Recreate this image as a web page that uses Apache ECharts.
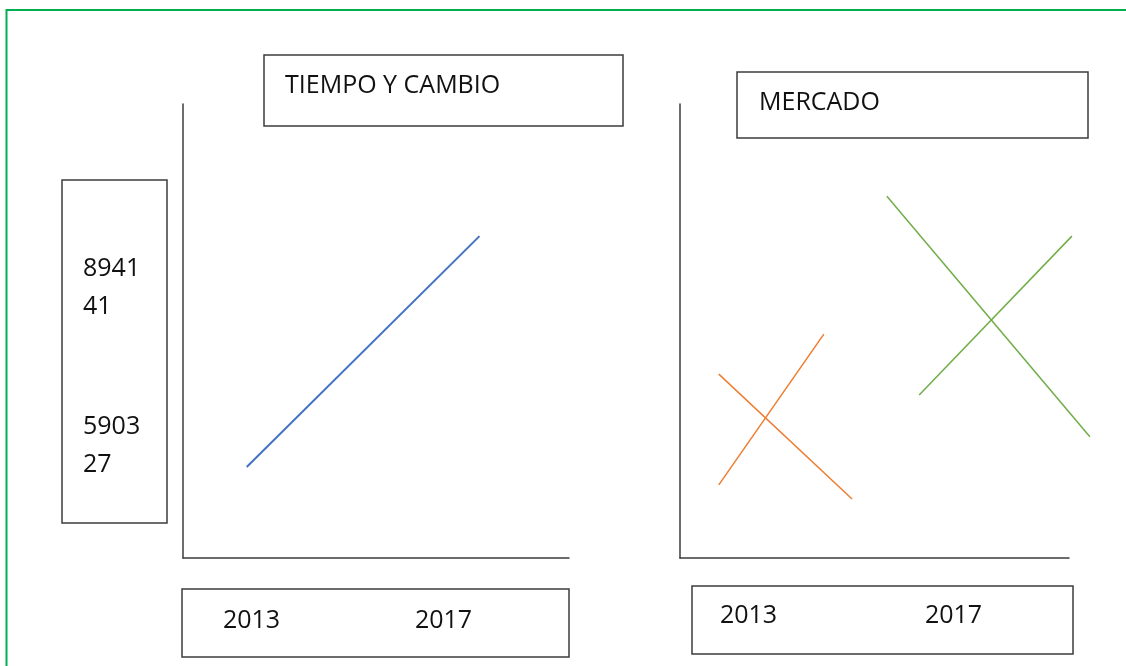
<!DOCTYPE html>
<html>
<head>
<meta charset="utf-8">
<script src="https://cdn.jsdelivr.net/npm/echarts@6/dist/echarts.min.js"></script>
<style>
  html, body { margin: 0; padding: 0; background: #fff; }
  #chart { width: 1126px; height: 666px; }
</style>
</head>
<body>
<div id="chart"></div>
<script>
// data
const yearTicks = [2013, 2017];
const valueTicks = [590327, 894141];

// TIEMPO Y CAMBIO: one rising line [year, value]
const tiempo = [[2012.9, 550000], [2017.75, 994000]];

// MERCADO: two crossed pairs, values as index 0-100
const mercadoNaranjaA = [[2012.42, 40.5], [2015.02, 13.0]];
const mercadoNaranjaB = [[2012.42, 16.1], [2014.47, 49.3]];
const mercadoVerdeA = [[2015.70, 79.7], [2019.66, 26.7]];
const mercadoVerdeB = [[2016.33, 35.9], [2019.31, 70.9]];

const font = 'Open Sans';
const ink = '#3c3c3c';

const chart = echarts.init(document.getElementById('chart'), null, { renderer: 'canvas' });

function box(x, y, w, h) {
  return {
    type: 'rect', silent: true,
    shape: { x: x, y: y, width: w, height: h },
    style: { fill: 'none', stroke: ink, lineWidth: 1.5 }
  };
}

function valueLabel(v) {
  const s = String(v);
  return s.slice(0, 4) + '\n' + s.slice(4);
}

// hidden axes for the wider overlay grid where the market lines live
const hidden = { show: false, splitLine: { show: false } };

const option = {
  backgroundColor: '#fff',
  animation: false,
  title: [
    { text: 'TIEMPO Y CAMBIO', left: 280, top: 68,
      textStyle: { fontFamily: font, fontSize: 25, fontWeight: 'normal', color: '#111' } },
    { text: 'MERCADO', left: 754, top: 85,
      textStyle: { fontFamily: font, fontSize: 25, fontWeight: 'normal', color: '#111' } }
  ],
  graphic: [
    {
      type: 'rect', silent: true,
      shape: { x: 6.5, y: 10, width: 1200, height: 700 },
      style: { fill: 'none', stroke: '#00b050', lineWidth: 2 }
    },
    box(264, 55, 359, 71),
    box(737, 72, 351, 66),
    box(62, 180, 105, 343),
    box(182, 589, 387, 68),
    box(692, 586, 381, 68)
  ],
  grid: [
    { left: 183, top: 104, width: 386, height: 454 },
    { left: 680, top: 104, width: 389, height: 454 },
    { left: 680, top: 104, width: 420, height: 454 }
  ],
  xAxis: [
    {
      gridIndex: 0, type: 'value', min: 2011.573, max: 2019.615,
      splitLine: { show: false },
      axisLine: { lineStyle: { color: ink, width: 1.5 } },
      axisTick: { show: false },
      axisLabel: {
        customValues: yearTicks, margin: 50,
        fontFamily: font, fontSize: 25, color: '#111',
        formatter: v => String(v)
      }
    },
    {
      gridIndex: 1, type: 'value', min: 2011.663, max: 2019.254,
      splitLine: { show: false },
      axisLine: { lineStyle: { color: ink, width: 1.5 } },
      axisTick: { show: false },
      axisLabel: {
        customValues: yearTicks, margin: 45,
        fontFamily: font, fontSize: 25, color: '#111',
        formatter: v => String(v)
      }
    },
    Object.assign({ gridIndex: 2, type: 'value', min: 2011.663, max: 2019.858 }, hidden)
  ],
  yAxis: [
    {
      gridIndex: 0, type: 'value', min: 375000, max: 1248000,
      splitLine: { show: false },
      axisLine: { show: true, lineStyle: { color: ink, width: 1.5 } },
      axisTick: { show: false },
      axisLabel: {
        customValues: valueTicks, margin: 100, align: 'left',
        fontFamily: font, fontSize: 25, lineHeight: 38, color: '#111',
        formatter: valueLabel
      }
    },
    {
      gridIndex: 1, type: 'value', min: 0, max: 100,
      splitLine: { show: false },
      axisLine: { show: true, lineStyle: { color: ink, width: 1.5 } },
      axisTick: { show: false },
      axisLabel: { show: false }
    },
    Object.assign({ gridIndex: 2, type: 'value', min: 0, max: 100 }, hidden)
  ],
  series: [
    { name: 'Tiempo y cambio', type: 'line', xAxisIndex: 0, yAxisIndex: 0, data: tiempo,
      symbol: 'none', lineStyle: { color: '#4472c4', width: 2 } },
    { name: 'Mercado 1a', type: 'line', xAxisIndex: 2, yAxisIndex: 2, data: mercadoNaranjaA,
      symbol: 'none', lineStyle: { color: '#ed7d31', width: 1.5 } },
    { name: 'Mercado 1b', type: 'line', xAxisIndex: 2, yAxisIndex: 2, data: mercadoNaranjaB,
      symbol: 'none', lineStyle: { color: '#ed7d31', width: 1.5 } },
    { name: 'Mercado 2a', type: 'line', xAxisIndex: 2, yAxisIndex: 2, data: mercadoVerdeA,
      symbol: 'none', lineStyle: { color: '#70ad47', width: 1.5 } },
    { name: 'Mercado 2b', type: 'line', xAxisIndex: 2, yAxisIndex: 2, data: mercadoVerdeB,
      symbol: 'none', lineStyle: { color: '#70ad47', width: 1.5 } }
  ]
};

chart.setOption(option);
</script>
</body>
</html>
